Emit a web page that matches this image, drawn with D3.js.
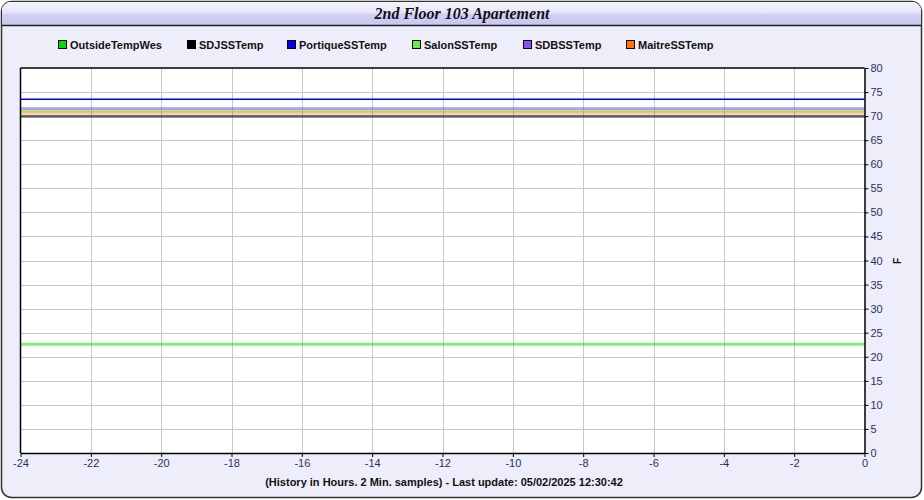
<!DOCTYPE html>
<html><head><meta charset="utf-8">
<script src="https://cdn.jsdelivr.net/npm/d3@7"></script>
<style>body{margin:0;background:#fff}svg{display:block}</style>
</head><body>
<svg id="c" width="924" height="500"></svg>
<script>
const title = "2nd Floor 103 Apartement";
const footer = "(History in Hours. 2 Min. samples) - Last update: 05/02/2025 12:30:42";
const seriesNames = ["OutsideTempWes","SDJSSTemp","PortiqueSSTemp","SalonSSTemp","SDBSSTemp","MaitreSSTemp"];
const seriesColors = ["#00dd00","#000000","#0000ee","#66ee44","#8a4fff","#ff7700"];
const seriesValues = [22.6, 70.0, 73.5, 71.2, 71.6, 70.8];
const hours = [-24, 0];
const xTicks = [-24,-22,-20,-18,-16,-14,-12,-10,-8,-6,-4,-2,0];
const yTicks = [0,5,10,15,20,25,30,35,40,45,50,55,60,65,70,75,80];
const yLabel = "F";

const svg = d3.select("#c");
const defs = svg.append("defs");
const g1 = defs.append("linearGradient").attr("id","tb").attr("x1",0).attr("y1",0).attr("x2",0).attr("y2",1);
g1.append("stop").attr("offset","0").attr("stop-color","#f4f4fc");
g1.append("stop").attr("offset","0.45").attr("stop-color","#e6e6fa");
g1.append("stop").attr("offset","0.55").attr("stop-color","#d0d0f6");
g1.append("stop").attr("offset","1").attr("stop-color","#c8c8f0");

// frame
svg.append("rect").attr("x",1.5).attr("y",1.5).attr("width",920).attr("height",496).attr("rx",10)
  .attr("fill","#eeeefa").attr("stroke","#333").attr("stroke-width",1.5);
svg.append("clipPath").attr("id","tc").append("rect").attr("x",1.5).attr("y",1.5).attr("width",920).attr("height",60).attr("rx",10);
svg.append("rect").attr("x",2).attr("y",2).attr("width",919).attr("height",23).attr("fill","url(#tb)").attr("clip-path","url(#tc)");
svg.append("line").attr("x1",2).attr("x2",921).attr("y1",25.5).attr("y2",25.5).attr("stroke","#222").attr("stroke-width",1.5);
svg.append("text").attr("x",462).attr("y",19).attr("text-anchor","middle")
  .attr("font-family","Liberation Serif, serif").attr("font-style","italic").attr("font-weight","bold")
  .attr("font-size",16).attr("fill","#111").text(title);

// legend
const legX = [58,187,287,412,523,626];
seriesNames.forEach((n,i)=>{
  const lg = svg.append("g").attr("transform",`translate(${legX[i]},40)`);
  lg.append("rect").attr("x",0.5).attr("y",0.5).attr("width",8).attr("height",8).attr("fill",seriesColors[i]).attr("stroke","#000");
  lg.append("text").attr("x",12).attr("y",8.5).attr("font-family","Liberation Sans, Arial, sans-serif")
    .attr("font-weight","bold").attr("font-size",11).attr("fill","#111").text(n);
});

const L=20.5, R=864.5, T=68, B=453;
const x = d3.scaleLinear().domain(hours).range([L,R]);
const y = d3.scaleLinear().domain([0,80]).range([B,T]);

svg.append("rect").attr("x",L).attr("y",T).attr("width",R-L).attr("height",B-T).attr("fill","#fff");
// grid
svg.append("g").selectAll("line").data(xTicks.slice(1,-1)).join("line")
  .attr("x1",d=>Math.round(x(d))+0.5).attr("x2",d=>Math.round(x(d))+0.5).attr("y1",T).attr("y2",B)
  .attr("stroke","#c8c8c8");
svg.append("g").selectAll("line").data(yTicks.slice(1,-1)).join("line")
  .attr("y1",d=>Math.round(y(d))+0.5).attr("y2",d=>Math.round(y(d))+0.5).attr("x1",L).attr("x2",R)
  .attr("stroke","#c8c8c8");

// series
const lineGen = d3.line().x(d=>x(d[0])).y(d=>y(d[1]));
const order = [0,1,5,3,4,2];
order.forEach(i=>{
  const v = seriesValues[i];
  svg.append("path").datum([[hours[0],v],[hours[1],v]]).attr("d",lineGen)
    .attr("fill","none").attr("stroke",seriesColors[i])
    .attr("stroke-width", i===2?1.5:3).attr("stroke-opacity", i===2?1:(i===1?0.55:0.5));
});

// border
svg.append("line").attr("x1",L).attr("x2",R).attr("y1",T).attr("y2",T).attr("stroke","#000").attr("stroke-width",1.5);
svg.append("line").attr("x1",L).attr("x2",L).attr("y1",T).attr("y2",B).attr("stroke","#000").attr("stroke-width",1.5);

const axColor = "#1d3366";
const fmt = d => String(d);
const xAxis = svg.append("g").attr("transform",`translate(0,${B})`)
  .call(d3.axisBottom(x).tickValues(xTicks).tickSize(4).tickSizeOuter(0).tickFormat(fmt));
const yAxis = svg.append("g").attr("transform",`translate(${R},0)`)
  .call(d3.axisRight(y).tickValues(yTicks).tickSize(4).tickSizeOuter(0).tickFormat(fmt));
[xAxis,yAxis].forEach(a=>{
  a.select(".domain").attr("stroke","#000").attr("stroke-width",1.5);
  a.selectAll(".tick line").attr("stroke","#000");
  a.selectAll("text").attr("font-family","Liberation Sans, Arial, sans-serif").attr("font-size",11).attr("fill",axColor);
});
xAxis.selectAll("text").attr("dy","0.71em").attr("y",6);
yAxis.selectAll("text").attr("x",6);

svg.append("text").attr("transform","translate(901,261) rotate(-90)").attr("text-anchor","middle")
  .attr("font-family","Liberation Sans, Arial, sans-serif").attr("font-weight","bold").attr("font-size",10).attr("fill","#111").text(yLabel);

svg.append("text").attr("x",444).attr("y",486).attr("text-anchor","middle")
  .attr("font-family","Liberation Sans, Arial, sans-serif").attr("font-weight","bold").attr("font-size",11).attr("fill","#111").text(footer);
</script>
</body></html>
